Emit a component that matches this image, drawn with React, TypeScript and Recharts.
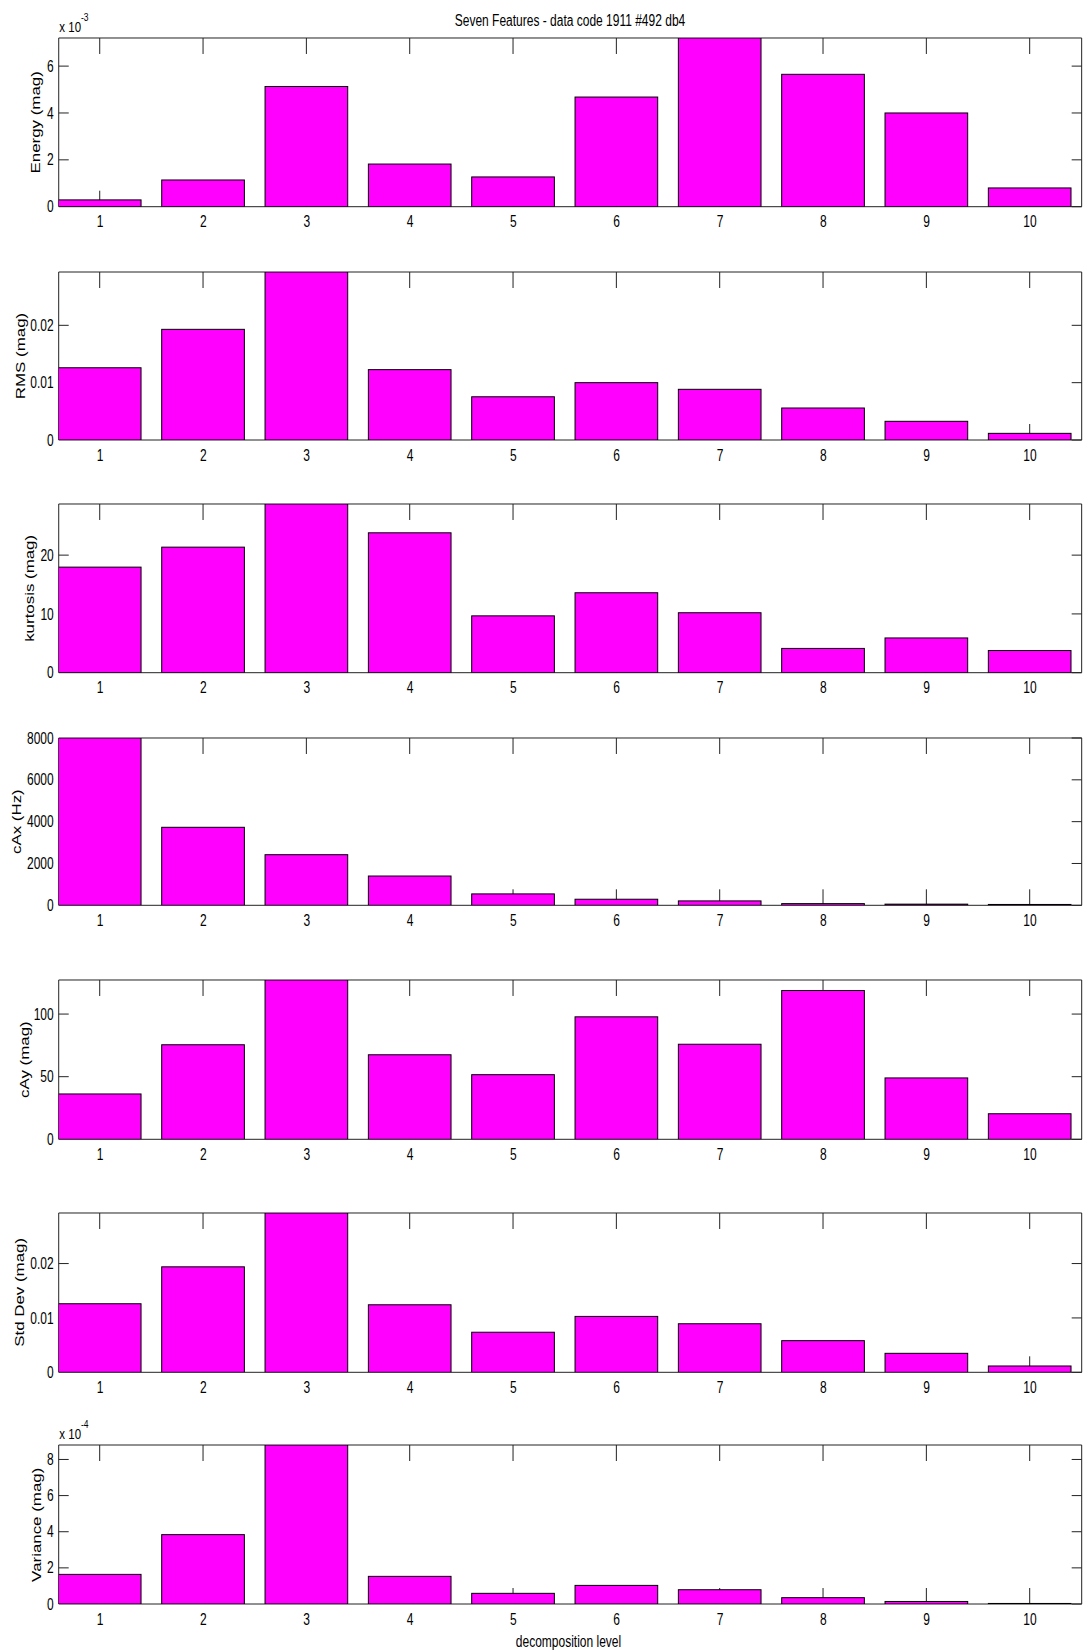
import React from 'react';
import { BarChart, Bar, XAxis, YAxis, ReferenceArea } from 'recharts';

// decomposition levels (x categories)
const levels = [1, 2, 3, 4, 5, 6, 7, 8, 9, 10];
const levelLabels = ['1', '2', '3', '4', '5', '6', '7', '8', '9', '10'];

// feature values
const energy = [0.00029, 0.00114, 0.00513, 0.00182, 0.00127, 0.00468, 0.0072, 0.00565, 0.0040, 0.0008];
const rms = [0.0126, 0.0193, 0.0293, 0.01227, 0.00754, 0.0100, 0.00884, 0.00558, 0.00326, 0.00116];
const kurtosis = [17.96, 21.36, 28.7, 23.8, 9.67, 13.6, 10.2, 4.13, 5.91, 3.77];
const cAx = [8000, 3730, 2420, 1400, 545, 290, 210, 80, 55, 40];
const cAy = [36.2, 75.5, 127.2, 67.5, 51.6, 97.8, 75.9, 118.8, 49.0, 20.4];
const stdDev = [0.01261, 0.0194, 0.0293, 0.01242, 0.00737, 0.01028, 0.00893, 0.00582, 0.00349, 0.00116];
const variance = [0.000164, 0.000384, 0.00088, 0.000153, 0.000059, 0.000103, 0.000079, 0.000035, 0.000014, 0.000003];

// y ticks and their labels
const energyTicks = [0, 0.002, 0.004, 0.006];
const energyTickLabels = ['0', '2', '4', '6'];
const rmsTicks = [0, 0.01, 0.02];
const rmsTickLabels = ['0', '0.01', '0.02'];
const kurtosisTicks = [0, 10, 20];
const kurtosisTickLabels = ['0', '10', '20'];
const cAxTicks = [0, 2000, 4000, 6000, 8000];
const cAxTickLabels = ['0', '2000', '4000', '6000', '8000'];
const cAyTicks = [0, 50, 100];
const cAyTickLabels = ['0', '50', '100'];
const stdDevTicks = [0, 0.01, 0.02];
const stdDevTickLabels = ['0', '0.01', '0.02'];
const varianceTicks = [0, 0.0002, 0.0004, 0.0006, 0.0008];
const varianceTickLabels = ['0', '2', '4', '6', '8'];

const title = 'Seven Features - data code 1911 #492 db4';
const xTitle = 'decomposition level';

const FONT = "'Liberation Sans', Arial, Helvetica, sans-serif";
const AXIS = '#222';
const PLOT_LEFT = 58.7;
const PLOT_RIGHT = 1081.7;
const PAD = 34;
const X_DOMAIN = [0.6, 10.5];
const XTICK_LEN = 16;
const YTICK_LEN = 10;

const panels = [
  { name: 'Energy (mag)', values: energy, ticks: energyTicks, tickLabels: energyTickLabels, exp: '-3' },
  { name: 'RMS (mag)', values: rms, ticks: rmsTicks, tickLabels: rmsTickLabels },
  { name: 'kurtosis (mag)', values: kurtosis, ticks: kurtosisTicks, tickLabels: kurtosisTickLabels },
  { name: 'cAx (Hz)', values: cAx, ticks: cAxTicks, tickLabels: cAxTickLabels },
  { name: 'cAy (mag)', values: cAy, ticks: cAyTicks, tickLabels: cAyTickLabels },
  { name: 'Std Dev (mag)', values: stdDev, ticks: stdDevTicks, tickLabels: stdDevTickLabels },
  { name: 'Variance (mag)', values: variance, ticks: varianceTicks, tickLabels: varianceTickLabels, exp: '-4' },
];

// plot box top/bottom and y-label baseline x, in page pixels
const layout = [
  { top: 38, bottom: 206.7, labelX: 39.5 },
  { top: 272, bottom: 440, labelX: 25 },
  { top: 504, bottom: 672.7, labelX: 34.3 },
  { top: 738, bottom: 905.3, labelX: 21.3 },
  { top: 980, bottom: 1139.3, labelX: 29.3 },
  { top: 1212.7, bottom: 1372, labelX: 24 },
  { top: 1445.3, bottom: 1604.3, labelX: 40.7 },
];

const txt = (x: number, y: number) => `translate(${x},${y}) scale(1,1.3)`;

const BottomLabel = (p: any) => (
  <text transform={txt(p.x, p.y + 20.5)} textAnchor="middle" fontSize={12} fontFamily={FONT} fill="#000">
    {levelLabels[p.index]}
  </text>
);

// y tick: label, right-edge inward mark, and left-edge inward mark unless bar 1 covers it
const makeLeftTick = (labels: string[], tickVals: number[], firstBar: number) => (p: any) => (
  <g>
    {tickVals[p.index] > firstBar && (
      <path d={`M${p.x},${p.y}h${YTICK_LEN}`} stroke={AXIS} strokeWidth={1} fill="none" />
    )}
    <path d={`M${p.x + PLOT_RIGHT - PLOT_LEFT},${p.y}h${-YTICK_LEN}`} stroke={AXIS} strokeWidth={1} fill="none" />
    <text transform={txt(p.x - 5, p.y + 5.6)} textAnchor="end" fontSize={12} fontFamily={FONT} fill="#000">
      {labels[p.index]}
    </text>
  </g>
);

// bar shape: the x tick marks (bottom and top edge) are drawn first, so the bar hides them
const makeBarShape = (plotH: number) => (p: any) => {
  const cx = p.x + p.width / 2;
  const base = p.y + p.height;
  const top = base - plotH;
  return (
    <g>
      <path d={`M${cx},${base}v${-XTICK_LEN}`} stroke={AXIS} strokeWidth={1} fill="none" />
      <path d={`M${cx},${top}v${XTICK_LEN}`} stroke={AXIS} strokeWidth={1} fill="none" />
      <rect x={p.x} y={p.y} width={p.width} height={Math.max(p.height, 0)} fill="#ff00ff" stroke="#000" strokeWidth={1} />
    </g>
  );
};

const Panel = ({ panel, box }: any) => {
  const data = levels.map((lv, i) => ({ level: lv, v: panel.values[i] }));
  const h = box.bottom - box.top;
  const step = (PLOT_RIGHT - PLOT_LEFT) / (X_DOMAIN[1] - X_DOMAIN[0]);
  const yMax = Math.max(...panel.values);
  const LeftTick = makeLeftTick(panel.tickLabels, panel.ticks, panel.values[0]);
  const BarShape = makeBarShape(h);
  const W = 1084;
  const H = h + 2 * PAD;
  return (
    <div style={{ position: 'absolute', left: 0, top: box.top - PAD, width: W, height: H }}>
      <BarChart width={W} height={H} data={data} margin={{ top: PAD, right: W - PLOT_RIGHT, bottom: 0, left: 0 }}>
        <XAxis
          dataKey="level"
          type="number"
          domain={X_DOMAIN}
          ticks={levels}
          interval={0}
          height={PAD}
          tickSize={0}
          tickMargin={0}
          tickLine={false}
          axisLine={false}
          tick={<BottomLabel />}
          allowDataOverflow
        />
        <YAxis
          type="number"
          domain={[0, yMax]}
          ticks={panel.ticks}
          interval={0}
          width={PLOT_LEFT}
          tickSize={0}
          tickMargin={0}
          tickLine={false}
          axisLine={false}
          tick={<LeftTick />}
          allowDataOverflow
        />
        <Bar dataKey="v" barSize={step * 0.8} shape={BarShape} isAnimationActive={false} />
        <ReferenceArea
          x1={X_DOMAIN[0]}
          x2={X_DOMAIN[1]}
          y1={0}
          y2={yMax}
          fill="none"
          fillOpacity={0}
          stroke={AXIS}
          strokeOpacity={1}
          strokeWidth={1}
        />
      </BarChart>
    </div>
  );
};

const App = () => {
  return (
    <div style={{ position: 'absolute', left: 0, top: 0, width: 1084, height: 1651, background: '#fff', overflow: 'hidden' }}>
      {panels.map((p, i) => (
        <Panel key={p.name} panel={p} box={layout[i]} />
      ))}
      <svg width={1084} height={1651} style={{ position: 'absolute', left: 0, top: 0, pointerEvents: 'none' }}>
        <text transform={txt(570, 26)} textAnchor="middle" fontSize={12} fontFamily={FONT} fill="#000">
          {title}
        </text>
        {panels.map((p, i) => {
          const b = layout[i];
          return (
            <g key={p.name}>
              <text
                transform={`translate(${b.labelX},${(b.top + b.bottom) / 2}) rotate(-90) scale(1.3,1)`}
                textAnchor="middle"
                fontSize={13}
                fontFamily={FONT}
                fill="#000"
              >
                {p.name}
              </text>
              {p.exp && (
                <text transform={txt(59.3, b.top - 6.5)} fontSize={11.5} fontFamily={FONT} fill="#000">
                  <tspan>x 10</tspan>
                  <tspan dy={-8} fontSize={8.5}>{p.exp}</tspan>
                </text>
              )}
            </g>
          );
        })}
        <text transform={txt(568.5, 1647.3)} textAnchor="middle" fontSize={12} fontFamily={FONT} fill="#000">
          {xTitle}
        </text>
      </svg>
    </div>
  );
};

export default App;
